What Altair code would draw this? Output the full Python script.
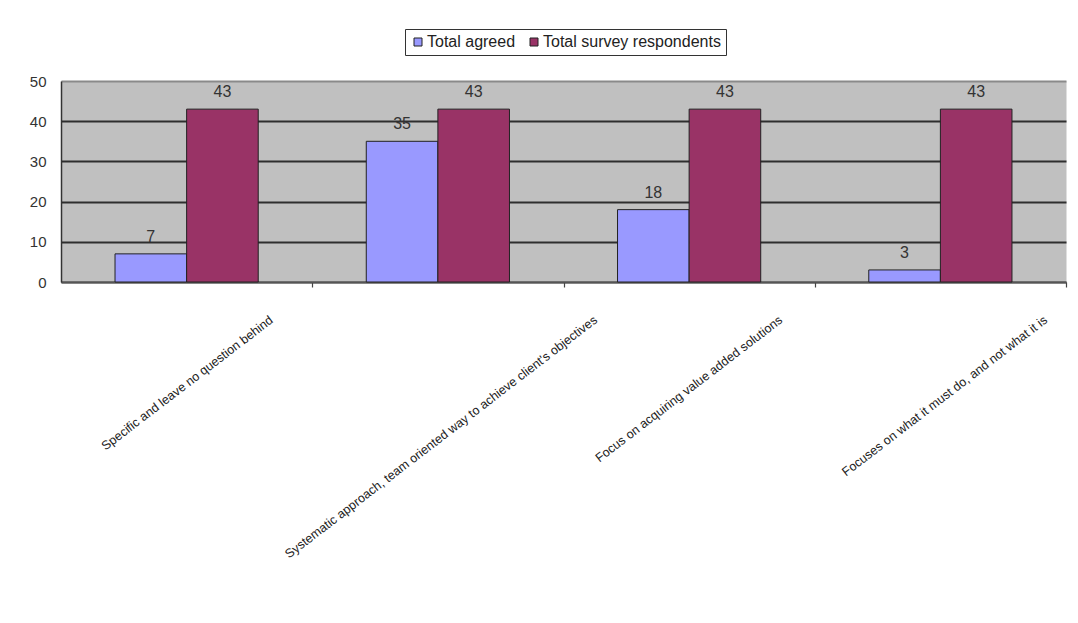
import altair as alt
import pandas as pd

categories = [
    "Specific and leave no question behind",
    "Systematic approach, team oriented way to achieve client's objectives",
    "Focus on acquiring value added solutions",
    "Focuses on what it must do, and not what it is",
]
agreed = [7, 35, 18, 3]
respondents = [43, 43, 43, 43]
series = ["Total agreed", "Total survey respondents"]
colors = ["#9999FF", "#993366"]
y_ticks = [0, 10, 20, 30, 40, 50]

rows = []
for c, a, r in zip(categories, agreed, respondents):
    rows.append({"category": c, "series": series[0], "value": a})
    rows.append({"category": c, "series": series[1], "value": r})
df = pd.DataFrame(rows)

FONT = "Liberation Sans"
PLOT_W = 1005
HALF_STEP = PLOT_W / len(categories) / 2

x_enc = alt.X(
    "category:N",
    sort=categories,
    title=None,
    scale=alt.Scale(paddingInner=0.43, paddingOuter=0.215),
    axis=alt.Axis(
        labelAngle=322.5,
        labelAlign="right",
        labelBaseline="middle",
        tickOffset=HALF_STEP,
        labelOffset=alt.ExprRef(expr=f"length(datum.label) * 2.28 - {HALF_STEP}"),
        labelPadding=31,
        labelFontSize=12.6,
        labelColor="#222",
        labelLimit=0,
        labelOverlap=False,
        tickSize=5,
        tickWidth=1.2,
        tickColor="#444",
        domainColor="#555",
        domainWidth=1.5,
        grid=False,
    ),
)
xoff = alt.XOffset("series:N", sort=series, scale=alt.Scale(paddingInner=0, paddingOuter=0))
y_enc = alt.Y(
    "value:Q",
    title=None,
    scale=alt.Scale(domain=[0, 50], nice=False),
    axis=alt.Axis(
        values=y_ticks,
        ticks=False,
        labelPadding=15,
        labelFontSize=15,
        labelColor="#333",
        domainColor="#333",
        domainWidth=1.5,
        grid=True,
        gridColor={"condition": {"test": "datum.value >= 50", "value": "#8a8a8a"}, "value": "#2e2e2e"},
        gridWidth=1.8,
    ),
)

bars = alt.Chart(df).mark_bar(stroke="#222", strokeWidth=1).encode(
    x=x_enc,
    xOffset=xoff,
    y=y_enc,
    color=alt.Color(
        "series:N",
        sort=series,
        scale=alt.Scale(domain=series, range=colors),
        legend=alt.Legend(
            title=None,
            orient="none",
            legendX=344,
            legendY=-52,
            direction="horizontal",
            symbolType="square",
            symbolSize=64,
            symbolStrokeColor="#222",
            symbolStrokeWidth=1,
            labelFontSize=16,
            labelColor="#222",
            labelLimit=0,
            labelOffset=1,
            columnPadding=10,
            strokeColor="#333",
            fillColor="white",
            padding=5,
        ),
    ),
)

labels = alt.Chart(df).mark_text(
    baseline="alphabetic", dy=-12, fontSize=16, color="#333", font=FONT
).encode(
    x=alt.X("category:N", sort=categories),
    xOffset=alt.XOffset("series:N", sort=series),
    y=alt.Y("value:Q"),
    text=alt.Text("value:Q"),
)

chart = (
    alt.layer(bars, labels)
    .properties(
        width=PLOT_W,
        height=201,
        autosize=alt.AutoSizeParams(type="none"),
        padding={"left": 53, "top": 73, "right": 4, "bottom": 300},
        background="white",
    )
    .configure(font=FONT)
    .configure_view(fill="#C0C0C0", stroke="transparent")
)

chart.save("out.html", embed_options={"renderer": "svg", "actions": False})
